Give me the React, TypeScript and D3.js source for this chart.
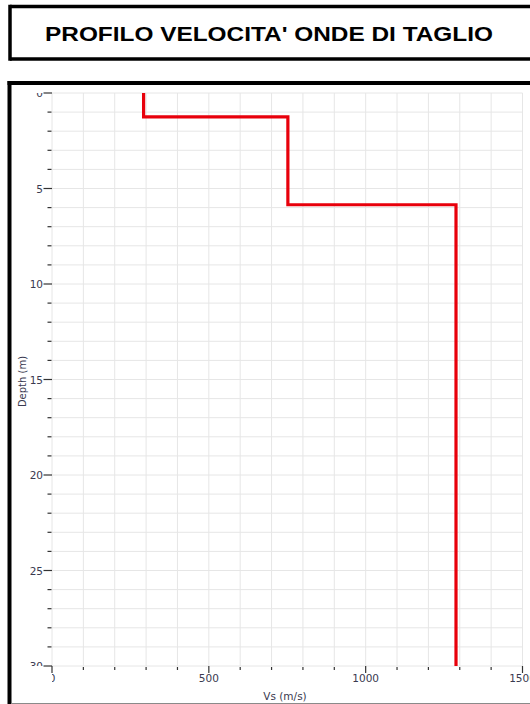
import React, { useEffect, useRef } from "react";
import * as d3 from "d3";

const TITLE = "PROFILO VELOCITA' ONDE DI TAGLIO";
const layerTop = [0, 1.25, 5.85];
const layerBottom = [1.25, 5.85, 30];
const layerVs = [292, 752, 1288];
const xTicks = [0, 500, 1000, 1500];
const yTicks = [0, 5, 10, 15, 20, 25, 30];
const X_LABEL = "Vs (m/s)";
const Y_LABEL = "Depth (m)";

const W = 530;
const H = 704;
const PX0 = 52, PX1 = 522.5, PY0 = 93, PY1 = 666;

export default function App() {
  const ref = useRef<SVGSVGElement>(null);
  useEffect(() => {
    const svg = d3.select(ref.current);
    svg.selectAll("*").remove();

    svg.append("rect").attr("x", 0).attr("y", 0).attr("width", W).attr("height", H).attr("fill", "white");

    const tb = svg.append("g").attr("stroke", "#000").attr("stroke-width", 3.5).attr("fill", "none");
    tb.append("line").attr("x1", 10).attr("x2", 530).attr("y1", 6.5).attr("y2", 6.5);
    tb.append("line").attr("x1", 10).attr("x2", 530).attr("y1", 59).attr("y2", 59);
    tb.append("line").attr("x1", 10).attr("x2", 10).attr("y1", 4.75).attr("y2", 60.75);
    svg.append("text").attr("x", 269).attr("y", 40.5).attr("text-anchor", "middle")
      .attr("font-family", "Liberation Sans, Arial, sans-serif").attr("font-weight", "bold")
      .attr("font-size", 21).attr("fill", "#000")
      .attr("textLength", 448).attr("lengthAdjust", "spacingAndGlyphs").text(TITLE);

    const cb = svg.append("g").attr("stroke", "#000").attr("stroke-width", 4).attr("fill", "none");
    cb.append("line").attr("x1", 7.5).attr("x2", 530).attr("y1", 83).attr("y2", 83);
    cb.append("line").attr("x1", 9.5).attr("x2", 9.5).attr("y1", 81).attr("y2", 704);
    svg.append("line").attr("x1", 11).attr("x2", 530).attr("y1", 703.5).attr("y2", 703.5)
      .attr("stroke", "#8a8a8a").attr("stroke-width", 1);

    const x = d3.scaleLinear().domain([0, 1500]).range([PX0, PX1]);
    const y = d3.scaleLinear().domain([0, 30]).range([PY0, PY1]);

    const defs = svg.append("defs");
    defs.append("clipPath").attr("id", "clipY").append("rect")
      .attr("x", 0).attr("y", PY0).attr("width", PX0).attr("height", PY1 - PY0);
    defs.append("clipPath").attr("id", "clipX").append("rect")
      .attr("x", PX0).attr("y", PY1).attr("width", 600).attr("height", 30);

    const g = svg.append("g");
    const xMinor = d3.range(0, 1501, 100);
    const yMinor = d3.range(0, 31, 1);
    g.selectAll(".vg").data(xMinor).join("line")
      .attr("x1", (d) => x(d)).attr("x2", (d) => x(d)).attr("y1", PY0).attr("y2", PY1)
      .attr("stroke", "#e6e6e6").attr("stroke-width", 1);
    g.selectAll(".hg").data(yMinor).join("line")
      .attr("x1", PX0).attr("x2", PX1).attr("y1", (d) => y(d)).attr("y2", (d) => y(d))
      .attr("stroke", "#e6e6e6").attr("stroke-width", 1);

    const tickColor = "#333";
    const labelColor = "#3a3a50";
    g.selectAll(".ymin").data(yMinor.filter((d) => d % 5 !== 0)).join("line")
      .attr("x1", 47.5).attr("x2", 51.5).attr("y1", (d) => y(d)).attr("y2", (d) => y(d))
      .attr("stroke", tickColor).attr("stroke-width", 1.2);
    g.selectAll(".ymaj").data(yTicks).join("line")
      .attr("x1", 43.5).attr("x2", 52).attr("y1", (d) => y(d)).attr("y2", (d) => y(d))
      .attr("stroke", tickColor).attr("stroke-width", 1.2);
    svg.append("g").attr("clip-path", "url(#clipY)")
      .selectAll("text").data(yTicks).join("text")
      .attr("x", 43).attr("y", (d) => y(d) + 4).attr("text-anchor", "end")
      .attr("font-family", "DejaVu Sans, sans-serif").attr("font-size", 10.5)
      .attr("fill", labelColor).text((d) => String(d));

    g.selectAll(".xmin").data(xMinor.filter((d) => d % 500 !== 0)).join("line")
      .attr("x1", (d) => x(d)).attr("x2", (d) => x(d)).attr("y1", 667).attr("y2", 670)
      .attr("stroke", tickColor).attr("stroke-width", 1.2);
    g.selectAll(".xmaj").data(xTicks).join("line")
      .attr("x1", (d) => x(d)).attr("x2", (d) => x(d)).attr("y1", PY1).attr("y2", 673)
      .attr("stroke", tickColor).attr("stroke-width", 1.2);
    svg.append("g").attr("clip-path", "url(#clipX)")
      .selectAll("text").data(xTicks).join("text")
      .attr("x", (d) => x(d)).attr("y", 682).attr("text-anchor", "middle")
      .attr("font-family", "DejaVu Sans, sans-serif").attr("font-size", 10.5)
      .attr("fill", labelColor).text((d) => String(d));

    svg.append("text").attr("x", 285).attr("y", 700).attr("text-anchor", "middle")
      .attr("font-family", "DejaVu Sans, sans-serif").attr("font-size", 10.5)
      .attr("fill", labelColor).text(X_LABEL);
    svg.append("text").attr("transform", `translate(26, ${(PY0 + PY1) / 2 + 2}) rotate(-90)`)
      .attr("text-anchor", "middle")
      .attr("font-family", "DejaVu Sans, sans-serif").attr("font-size", 10)
      .attr("fill", labelColor).text(Y_LABEL);

    const pts: [number, number][] = [];
    layerVs.forEach((v, i) => {
      pts.push([v, layerTop[i]]);
      pts.push([v, layerBottom[i]]);
    });
    const line = d3.line<[number, number]>().x((d) => x(d[0])).y((d) => y(d[1]));
    svg.append("path").attr("d", line(pts)).attr("fill", "none")
      .attr("stroke", "#e8000b").attr("stroke-width", 3.2).attr("stroke-linejoin", "miter");
  }, []);

  return (
    <svg ref={ref} width={W} height={H}
      style={{ position: "fixed", left: 0, top: 0, display: "block", overflow: "hidden" }} />
  );
}
